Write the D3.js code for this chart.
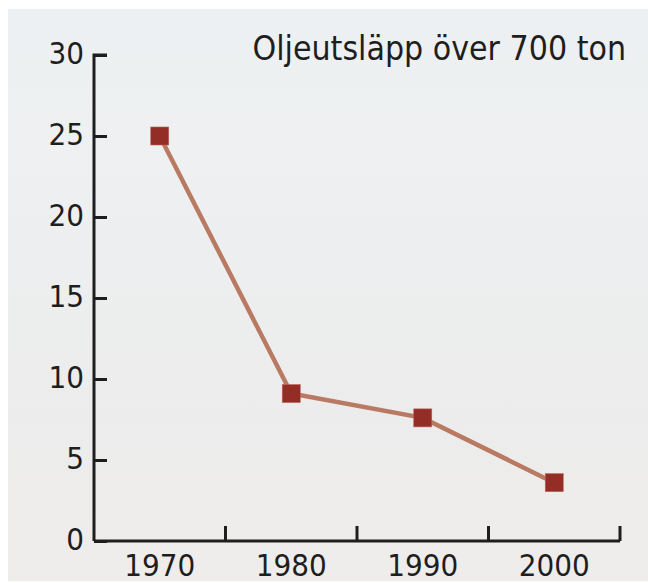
<!DOCTYPE html>
<html>
<head>
<meta charset="utf-8">
<script src="https://cdn.jsdelivr.net/npm/d3@7"></script>
<style>
  body { margin: 0; background: #fff; }
  text { font-family: "DejaVu Sans Condensed", "DejaVu Sans", sans-serif; font-stretch: condensed; fill: #1e1e1e; }
</style>
</head>
<body>
<div id="chart"></div>
<script>
const years = ["1970", "1980", "1990", "2000"];
const spills = [25, 9.1, 7.6, 3.6];
const yTicks = [0, 5, 10, 15, 20, 25, 30];
const title = "Oljeutsläpp över 700 ton";

const width = 648, height = 583;
const margin = { top: 55, right: 28, bottom: 42, left: 94 };
const innerW = width - margin.left - margin.right;
const innerH = height - margin.top - margin.bottom;

const svg = d3.select("#chart").append("svg").attr("width", width).attr("height", height);

const defs = svg.append("defs");
const grad = defs.append("linearGradient").attr("id", "bg").attr("x1", 0).attr("y1", 0).attr("x2", 0).attr("y2", 1);
grad.append("stop").attr("offset", "0%").attr("stop-color", "#edf0f2");
grad.append("stop").attr("offset", "25%").attr("stop-color", "#eef0f1");
grad.append("stop").attr("offset", "70%").attr("stop-color", "#ececec");
grad.append("stop").attr("offset", "100%").attr("stop-color", "#efedeb");

svg.append("rect").attr("x", 8).attr("y", 9).attr("width", width - 8).attr("height", height - 11).attr("fill", "url(#bg)");

const g = svg.append("g").attr("transform", `translate(${margin.left},${margin.top})`);

const x = d3.scaleBand().domain(years).range([0, innerW]);
const y = d3.scaleLinear().domain([0, 30]).range([innerH, 0]);

// y axis, ticks pointing inward
const yAxis = g.append("g").call(d3.axisRight(y).tickValues(yTicks).tickSize(13).tickFormat(d3.format("d")));
yAxis.select(".domain").attr("d", `M13,0H0V${innerH}`).attr("stroke", "#1e1e1e").attr("stroke-width", 3);
yAxis.selectAll(".tick line").attr("stroke", "#1e1e1e").attr("stroke-width", 3);
yAxis.selectAll(".tick text").attr("x", -10).attr("text-anchor", "end").attr("dy", "0.28em")
  .style("font-size", "31px").attr("fill", "#1e1e1e");

// x axis, ticks between bands pointing up
const xAxis = g.append("g").attr("transform", `translate(0,${innerH})`);
xAxis.append("path").attr("d", `M0,0H${innerW}`).attr("stroke", "#1e1e1e").attr("stroke-width", 3).attr("fill", "none");
xAxis.selectAll("line.sep").data(years).enter().append("line")
  .attr("x1", d => x(d) + x.bandwidth()).attr("x2", d => x(d) + x.bandwidth())
  .attr("y1", 0).attr("y2", -15)
  .attr("stroke", "#1e1e1e").attr("stroke-width", 3);
xAxis.selectAll("text.lbl").data(years).enter().append("text")
  .attr("x", d => x(d) + x.bandwidth() / 2).attr("y", 35)
  .attr("text-anchor", "middle").style("font-size", "31px").text(d => d);

const pts = years.map((d, i) => [x(d) + x.bandwidth() / 2, y(spills[i])]);

g.append("path").datum(pts)
  .attr("d", d3.line())
  .attr("fill", "none").attr("stroke", "#b97a64").attr("stroke-width", 4.5);

const s = 18;
g.selectAll("rect.marker").data(pts).enter().append("rect")
  .attr("x", d => d[0] - s / 2).attr("y", d => d[1] - s / 2)
  .attr("width", s).attr("height", s)
  .attr("fill", "#932d26").attr("stroke", "#c0625a").attr("stroke-width", 0.6);

svg.append("text").attr("x", 626).attr("y", 60).attr("text-anchor", "end")
  .style("font-size", "33.5px").text(title);
</script>
</body>
</html>
